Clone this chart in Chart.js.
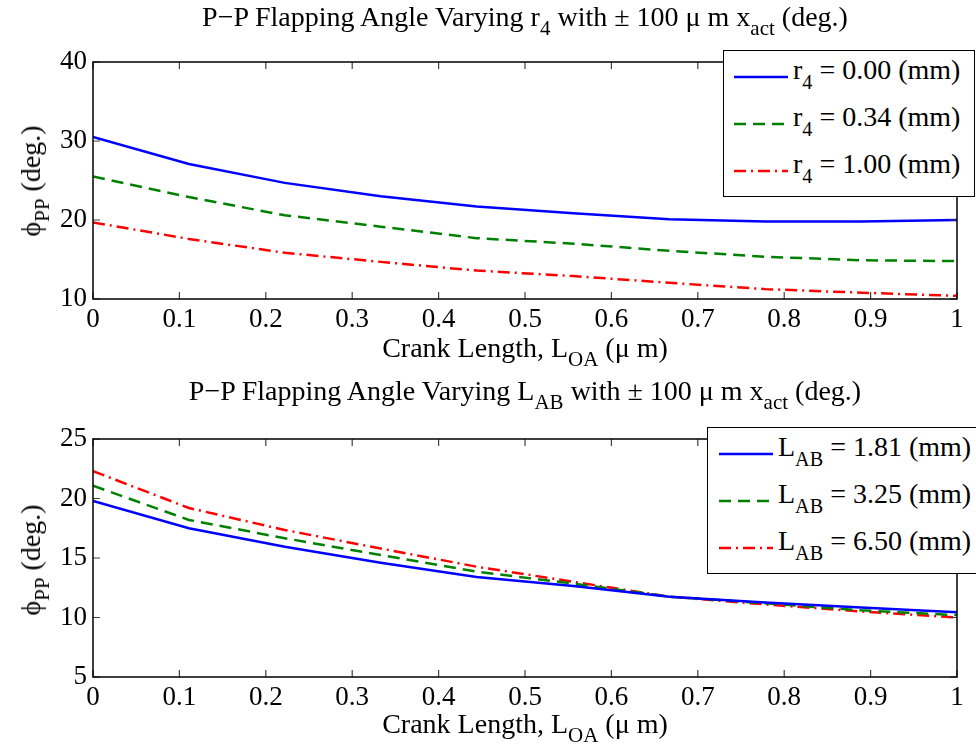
<!DOCTYPE html>
<html><head><meta charset="utf-8">
<script src="https://cdn.jsdelivr.net/npm/chart.js@4/dist/chart.umd.min.js"></script>
<style>
html,body{margin:0;padding:0;background:#fff;}
#wrap{position:relative;width:976px;height:753px;background:#fff;font-family:"Liberation Serif","Times New Roman",serif;color:#000;overflow:hidden}
canvas{position:absolute;left:0;}
.t{position:absolute;white-space:nowrap;font-size:28px;line-height:28px;height:28px;transform:translate(-50%,-50%);}
.t sub{font-size:75%;vertical-align:-0.45em;line-height:0;}
.yl{transform:translate(-50%,-50%) rotate(-90deg);}
.leg{position:absolute;background:#fff;border:1.5px solid #000;box-sizing:border-box;}
.row{position:absolute;left:0;white-space:nowrap;font-size:28px;line-height:28px;}
.row svg{position:absolute;}
.row span{position:absolute;}
.row sub{font-size:72%;vertical-align:-0.48em;line-height:0;}
</style></head>
<body>
<div id="wrap">
<canvas id="c1" width="976" height="376" style="top:0"></canvas>
<canvas id="c2" width="976" height="377" style="top:376px"></canvas>
</div>
<script>
// ---- data ----
const crankLength = [0, 0.111, 0.222, 0.333, 0.444, 0.556, 0.667, 0.778, 0.889, 1.0];
const phiR4_000 = [30.5, 27.1, 24.7, 23.0, 21.7, 20.85, 20.1, 19.8, 19.8, 20.0];
const phiR4_034 = [25.5, 22.9, 20.6, 19.15, 17.7, 17.0, 16.1, 15.35, 14.9, 14.8];
const phiR4_100 = [19.7, 17.6, 15.85, 14.7, 13.6, 12.9, 12.05, 11.25, 10.8, 10.4];
const phiLAB_181 = [19.8, 17.5, 15.95, 14.6, 13.4, 12.65, 11.75, 11.27, 10.85, 10.45];
const phiLAB_325 = [21.07, 18.2, 16.66, 15.25, 13.85, 12.85, 11.75, 11.2, 10.6, 10.2];
const phiLAB_650 = [22.3, 19.2, 17.35, 15.8, 14.27, 13.0, 11.75, 11.1, 10.5, 10.0];
const xTickLabels = [0, 0.1, 0.2, 0.3, 0.4, 0.5, 0.6, 0.7, 0.8, 0.9, 1];
const yTicksTop = [10, 20, 30, 40];
const yTicksBottom = [5, 10, 15, 20, 25];
const legendTop = ['0.00', '0.34', '1.00'];
const legendBottom = ['1.81', '3.25', '6.50'];

const BLUE = '#0000ff', GREEN = '#008000', RED = '#ff0000';
const DASH = [[], [12, 7], [12, 5, 2, 5]];
const FONT = '"Liberation Serif","Times New Roman",serif';

const frame = {
  id: 'frame',
  afterDatasetsDraw(chart) {
    const {ctx, chartArea: a, scales} = chart;
    ctx.save();
    ctx.strokeStyle = '#404040';
    ctx.lineWidth = 1.2;
    const L = 7;
    scales.x.ticks.forEach(t => {
      const px = scales.x.getPixelForValue(t.value);
      ctx.beginPath();
      ctx.moveTo(px, a.bottom); ctx.lineTo(px, a.bottom - L);
      ctx.moveTo(px, a.top); ctx.lineTo(px, a.top + L);
      ctx.stroke();
    });
    scales.y.ticks.forEach(t => {
      const py = scales.y.getPixelForValue(t.value);
      ctx.beginPath();
      ctx.moveTo(a.left, py); ctx.lineTo(a.left + L, py);
      ctx.moveTo(a.right, py); ctx.lineTo(a.right - L, py);
      ctx.stroke();
    });
    ctx.strokeStyle = '#000';
    ctx.lineWidth = 1.5;
    ctx.strokeRect(a.left, a.top, a.right - a.left, a.bottom - a.top);
    ctx.restore();
  }
};

function makeChart(id, series, yTicks, yMin, yMax, padTop, xAxisH) {
  const colors = [BLUE, GREEN, RED];
  return new Chart(document.getElementById(id), {
    type: 'line',
    data: {
      datasets: series.map((s, i) => ({
        data: crankLength.map((x, j) => ({x: x, y: s[j]})),
        borderColor: colors[i],
        borderWidth: 2.5,
        borderDash: DASH[i],
        pointRadius: 0,
        tension: 0,
        fill: false
      }))
    },
    options: {
      responsive: false,
      devicePixelRatio: 1,
      animation: false,
      layout: {padding: {top: padTop, right: 19, left: 0, bottom: 0}},
      plugins: {legend: {display: false}, title: {display: false}, tooltip: {enabled: false}},
      scales: {
        x: {
          type: 'linear', min: 0, max: 1,
          afterBuildTicks(s) { s.ticks = xTickLabels.map(v => ({value: v})); },
          afterFit(s) { s.height = xAxisH; },
          grid: {display: false, drawTicks: false},
          border: {display: false},
          ticks: {color: '#000', font: {family: FONT, size: 27}, padding: 5, maxRotation: 0,
                  callback: v => String(v)}
        },
        y: {
          type: 'linear', min: yMin, max: yMax,
          afterBuildTicks(s) { s.ticks = yTicks.map(v => ({value: v})); },
          afterFit(s) { s.width = 93; },
          grid: {display: false, drawTicks: false},
          border: {display: false},
          ticks: {color: '#000', font: {family: FONT, size: 27}, padding: 6,
                  callback: v => String(v)}
        }
      }
    },
    plugins: [frame]
  });
}

makeChart('c1', [phiR4_000, phiR4_034, phiR4_100], yTicksTop, 10, 40, 62, 77);
makeChart('c2', [phiLAB_181, phiLAB_325, phiLAB_650], yTicksBottom, 5, 25, 63, 76);

// ---- text overlays ----
const wrap = document.getElementById('wrap');
function addText(html, x, y, cls) {
  const d = document.createElement('div');
  d.className = 't' + (cls ? ' ' + cls : '');
  d.style.left = x + 'px'; d.style.top = y + 'px';
  d.innerHTML = html;
  wrap.appendChild(d);
}
addText('P\u2212P Flapping Angle Varying r<sub>4</sub> with \u00b1 100 \u03bc m x<sub>act</sub> (deg.)', 525, 17);
addText('Crank Length, L<sub>OA</sub> (\u03bc m)', 525, 348);
addText('\u03d5<sub>PP</sub> (deg.)', 31, 181, 'yl');
addText('P\u2212P Flapping Angle Varying L<sub>AB</sub> with \u00b1 100 \u03bc m x<sub>act</sub> (deg.)', 525, 391);
addText('Crank Length, L<sub>OA</sub> (\u03bc m)', 525, 724);
addText('\u03d5<sub>PP</sub> (deg.)', 31, 560, 'yl');

function addLegend(left, top, width, height, sym, values, rowY, lineX0, lineX1, textX) {
  const box = document.createElement('div');
  box.className = 'leg';
  Object.assign(box.style, {left: left + 'px', top: top + 'px', width: width + 'px', height: height + 'px'});
  const colors = [BLUE, GREEN, RED];
  values.forEach((v, i) => {
    const r = document.createElement('div');
    r.className = 'row';
    r.style.top = (rowY[i] - top) + 'px';
    const dash = DASH[i].length ? ` stroke-dasharray="${DASH[i].join(' ')}"` : '';
    r.innerHTML = `<svg width="${lineX1 - lineX0 + 2}" height="6" style="left:${lineX0 - left}px;top:-3px">` +
      `<line x1="0" y1="3" x2="${lineX1 - lineX0}" y2="3" stroke="${colors[i]}" stroke-width="2.5"${dash}/></svg>` +
      `<span style="left:${textX - left}px;top:-21px">${sym} = ${v} (mm)</span>`;
    box.appendChild(r);
  });
  wrap.appendChild(box);
}
addLegend(723, 50, 252, 147, 'r<sub>4</sub>', legendTop, [76, 123, 170], 733, 787, 792);
addLegend(707, 427, 272, 147, 'L<sub>AB</sub>', legendBottom, [453, 500, 547], 718, 772, 777);
</script>
</body></html>
